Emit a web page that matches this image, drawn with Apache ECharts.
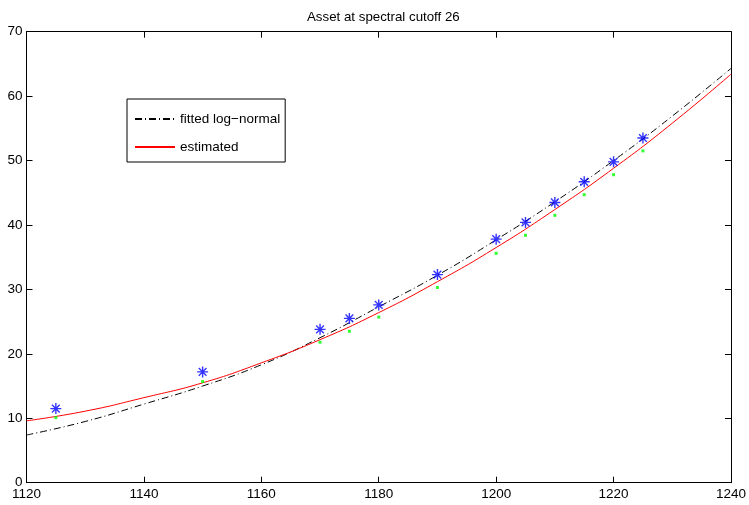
<!DOCTYPE html>
<html>
<head>
<meta charset="utf-8">
<script src="https://cdn.jsdelivr.net/npm/echarts@6/dist/echarts.min.js"></script>
<style>
  html, body { margin: 0; padding: 0; background: #fff; }
  #chart { width: 749px; height: 505px; }
</style>
</head>
<body>
<div id="chart"></div>
<script>
// observed points (blue stars) and their lower companions (green dots)
const strikes = [1125, 1150, 1170, 1175, 1180, 1190, 1200, 1205, 1210, 1215, 1220, 1225];
const observed = [11.5, 17.2, 23.8, 25.5, 27.6, 32.3, 37.8, 40.4, 43.5, 46.7, 49.8, 53.5];
const greenDots = [10.1, 15.7, 21.8, 23.5, 25.7, 30.3, 35.6, 38.4, 41.5, 44.7, 47.8, 51.5];

// curves every 10 units
const curveX = [1120, 1130, 1140, 1150, 1160, 1170, 1180, 1190, 1200, 1210, 1220, 1230, 1240];
const fittedLogNormal = [7.4, 9.5, 12.2, 15.0, 18.3, 22.5, 27.3, 32.2, 37.7, 43.6, 50.0, 56.9, 64.3];
const estimated = [9.6, 11.1, 13.2, 15.5, 18.6, 22.2, 26.4, 31.2, 36.5, 42.4, 48.8, 55.8, 63.4];

const pairs = (xs, ys) => xs.map((x, i) => [x, ys[i]]);

const chart = echarts.init(document.getElementById('chart'));

const font = 'Liberation Sans, Arial, sans-serif';
const axisCommon = {
  type: 'value',
  axisLine: { show: true, onZero: false, lineStyle: { color: '#000', width: 1 } },
  axisTick: { show: true, inside: true, length: 6, lineStyle: { color: '#000' } },
  splitLine: { show: false },
};

const option = {
  animation: false,
  backgroundColor: '#fff',
  title: {
    text: 'Asset at spectral cutoff 26',
    left: 302,
    top: 6,
    textStyle: { fontFamily: font, fontSize: 13.3, fontWeight: 'normal', color: '#000' },
  },
  grid: { left: 26.5, right: 17.3, top: 31.7, bottom: 22.3 },
  legend: {
    data: ['fitted log\u2212normal', 'estimated'],
    orient: 'vertical',
    left: 127,
    top: 99,
    padding: [13, 5, 8, 7],
    itemWidth: 40,
    itemHeight: 14,
    itemGap: 14,
    itemStyle: { opacity: 0 },
    borderColor: '#000',
    borderWidth: 1,
    borderRadius: 0,
    textStyle: { fontFamily: font, fontSize: 13.5, color: '#000' },
  },
  xAxis: [
    Object.assign({}, axisCommon, {
      position: 'bottom', min: 1120, max: 1240, interval: 20,
      axisLabel: { margin: 5, color: '#000', fontFamily: font, fontSize: 13.5, formatter: v => String(v) },
    }),
    Object.assign({}, axisCommon, {
      position: 'top', min: 1120, max: 1240, interval: 20,
      axisLabel: { show: false },
    }),
  ],
  yAxis: [
    Object.assign({}, axisCommon, {
      position: 'left', min: 0, max: 70, interval: 10,
      axisLabel: { margin: 4, color: '#000', fontFamily: font, fontSize: 13.5 },
    }),
    Object.assign({}, axisCommon, {
      position: 'right', min: 0, max: 70, interval: 10,
      axisLabel: { show: false },
    }),
  ],
  series: [
    {
      name: 'fitted log\u2212normal',
      type: 'line',
      data: pairs(curveX, fittedLogNormal),
      smooth: true,
      showSymbol: false,
      symbol: 'none',
      lineStyle: { color: '#000', width: 1, type: [7, 3, 1, 3] },
      itemStyle: { color: '#000' },
    },
    {
      name: 'estimated',
      type: 'line',
      data: pairs(curveX, estimated),
      smooth: true,
      showSymbol: false,
      symbol: 'none',
      lineStyle: { color: '#ff0000', width: 1 },
      itemStyle: { color: '#ff0000' },
    },
    {
      name: 'observed',
      type: 'scatter',
      data: pairs(strikes, observed),
      symbol: 'path://M5,0L5,10M0,5L10,5M1.5,1.5L8.5,8.5M1.5,8.5L8.5,1.5',
      symbolSize: 11,
      itemStyle: { color: 'none', borderColor: '#0000ff', borderWidth: 1.4 },
      z: 3,
    },
    {
      name: 'green',
      type: 'scatter',
      data: pairs(strikes, greenDots),
      symbol: 'rect',
      symbolSize: 3,
      itemStyle: { color: '#00ff00' },
      z: 3,
    },
  ],
};

chart.setOption(option);
</script>
</body>
</html>
